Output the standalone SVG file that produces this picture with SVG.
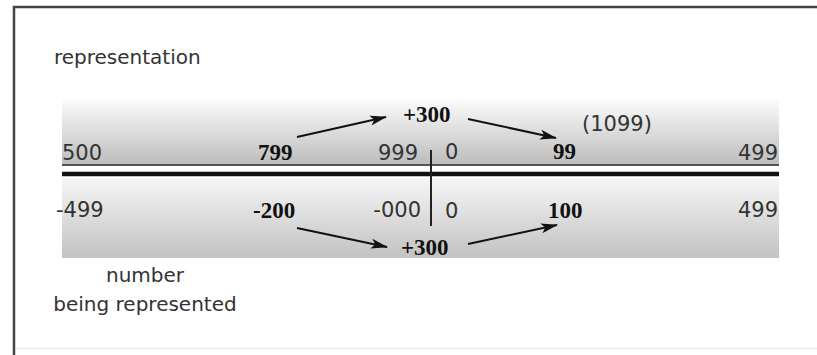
<svg xmlns="http://www.w3.org/2000/svg" width="817" height="355" viewBox="0 0 817 355">
<style>
.sans{font-family:"DejaVu Sans","Liberation Sans",sans-serif;fill:#333;font-size:20px}
.num{font-family:"DejaVu Sans","Liberation Sans",sans-serif;fill:#333;font-size:21px}
.bold{font-family:"Liberation Serif","Times New Roman",serif;font-weight:bold;fill:#111;font-size:23px}
.arrow{stroke:#111;stroke-width:2;fill:none;marker-end:url(#ah)}
</style>
<defs>
<linearGradient id="g1" x1="0" y1="0" x2="0" y2="1">
<stop offset="0" stop-color="#ffffff"/>
<stop offset="1" stop-color="#bdbdbd"/>
</linearGradient>
<linearGradient id="g2" x1="0" y1="0" x2="0" y2="1">
<stop offset="0" stop-color="#f6f6f6"/>
<stop offset="1" stop-color="#c2c2c2"/>
</linearGradient>
<marker id="ah" markerUnits="userSpaceOnUse" markerWidth="18" markerHeight="12" refX="16" refY="6" orient="auto">
<path d="M0,1 L17,6 L0,11 L4,6 z" fill="#111"/>
</marker>
</defs>
<rect width="817" height="355" fill="#fff"/>
<g id="frame">
<path d="M14,355 V7 H817" fill="none" stroke="#444" stroke-width="2.5"/>
<line x1="16" y1="348.5" x2="817" y2="348.5" stroke="#ececec" stroke-width="1.5"/>
</g>
<g id="bands">
<rect x="62" y="96" width="717" height="68" fill="url(#g1)"/>
<rect x="62" y="178" width="717" height="80" fill="url(#g2)"/>
<line x1="62" y1="165" x2="779" y2="165" stroke="#555" stroke-width="2"/>
<line x1="62" y1="174" x2="779" y2="174" stroke="#111" stroke-width="4.5"/>
<line x1="431" y1="150" x2="431" y2="226" stroke="#222" stroke-width="2"/>
</g>
<g id="label-representation"><text class="sans" x="54" y="64">representation</text></g>
<g id="label-number"><text class="sans" x="145" y="282" text-anchor="middle">number</text>
<text class="sans" x="145" y="311" text-anchor="middle">being represented</text></g>
<g id="top-row">
<text class="num" x="62" y="160">500</text>
<text class="bold" x="258" y="160">799</text>
<text class="num" x="418" y="160" text-anchor="end">999</text>
<text class="num" x="445" y="159">0</text>
<text class="bold" x="553" y="159">99</text>
<text class="num" x="582" y="131">(1099)</text>
<text class="num" x="778" y="160" text-anchor="end">499</text>
<text class="bold" x="403" y="122">+300</text>
</g>
<g id="bottom-row">
<text class="num" x="56" y="217">-499</text>
<text class="bold" x="253" y="218">-200</text>
<text class="num" x="421" y="217" text-anchor="end">-000</text>
<text class="num" x="445" y="218">0</text>
<text class="bold" x="548" y="218">100</text>
<text class="num" x="778" y="217" text-anchor="end">499</text>
<text class="bold" x="401" y="255">+300</text>
</g>
<g id="connectors">
<line class="arrow" x1="297" y1="137" x2="386" y2="117"/>
<line class="arrow" x1="468" y1="119" x2="556" y2="138"/>
<line class="arrow" x1="297" y1="228" x2="387" y2="247"/>
<line class="arrow" x1="468" y1="244" x2="557" y2="225"/>
</g>
</svg>
